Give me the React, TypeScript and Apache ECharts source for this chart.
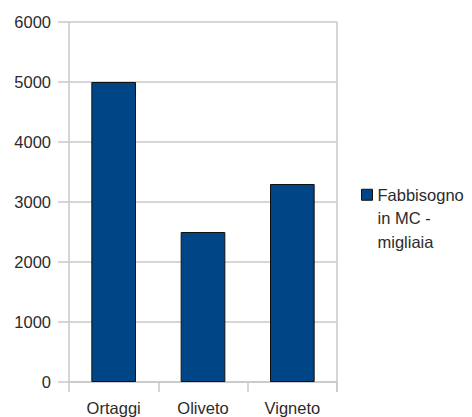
import React, { useEffect, useRef } from "react";
import * as echarts from "echarts";

const categories = ["Ortaggi", "Oliveto", "Vigneto"];
const fabbisogno = [5000, 2500, 3300];
const seriesName = "Fabbisogno in MC - migliaia";
const legendLines = ["Fabbisogno", "in MC -", "migliaia"];

const FONT = "'Liberation Sans', Arial, sans-serif";
const GRID = "#c8c8c8";
const TEXT = "#2b2b2b";

export default function App() {
  const ref = useRef<HTMLDivElement>(null);

  useEffect(() => {
    if (!ref.current) return;
    const chart = echarts.init(ref.current, null, { renderer: "svg" });
    const rightX = 472 - 135;
    chart.setOption({
      animation: false,
      backgroundColor: "#ffffff",
      textStyle: { fontFamily: FONT },
      grid: { left: 69, right: 135, top: 22, bottom: 35 },
      legend: {
        data: [seriesName],
        left: 356,
        top: 131,
        orient: "vertical",
        icon: "rect",
        itemWidth: 11,
        itemHeight: 11,
        // two empty lines first keep the icon level with the first text line
        formatter: () => ["", "", ...legendLines].join("\n"),
        itemStyle: { borderColor: "#111111", borderWidth: 1 },
        textStyle: {
          fontFamily: FONT,
          fontSize: 16.5,
          color: TEXT,
          lineHeight: 23.5,
        },
      },
      xAxis: {
        type: "category",
        data: categories,
        axisLine: { lineStyle: { color: GRID, width: 1.5 } },
        axisTick: { show: true, length: 10, lineStyle: { color: GRID, width: 1.5 } },
        axisLabel: { margin: 17, fontSize: 16.5, color: TEXT, fontFamily: FONT },
        splitLine: { show: false },
      },
      yAxis: {
        type: "value",
        min: 0,
        max: 6000,
        interval: 1000,
        axisLine: { show: true, lineStyle: { color: GRID, width: 1.5 } },
        axisTick: { show: true, length: 11, lineStyle: { color: GRID, width: 1.5 } },
        axisLabel: {
          margin: 18,
          fontSize: 16.5,
          color: TEXT,
          fontFamily: FONT,
          formatter: (v: number) => String(v),
        },
        splitLine: { show: true, lineStyle: { color: GRID, width: 1.5 } },
      },
      // right-hand border of the plot area
      graphic: [
        {
          type: "line",
          shape: { x1: rightX, y1: 22, x2: rightX, y2: 392 },
          style: { stroke: GRID, lineWidth: 1.5 },
        },
      ],
      series: [
        {
          name: seriesName,
          type: "bar",
          data: fabbisogno,
          barWidth: "50%",
          itemStyle: { color: "#004586", borderColor: "#111111", borderWidth: 1 },
        },
      ],
    });
    return () => chart.dispose();
  }, []);

  return (
    <div
      ref={ref}
      style={{ position: "fixed", left: 0, top: 0, width: 472, height: 417 }}
    />
  );
}
